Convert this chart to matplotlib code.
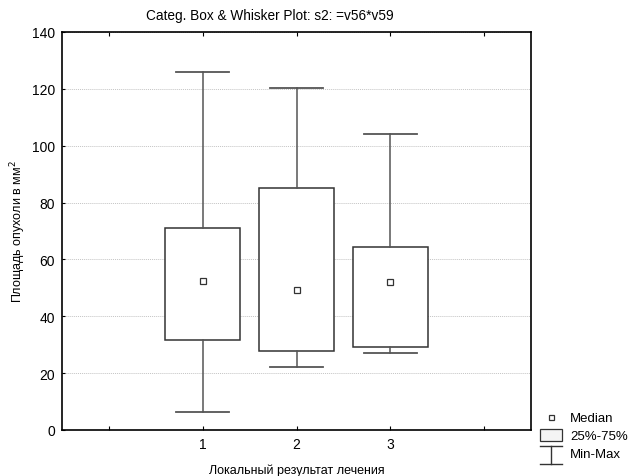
"""Categorized box & whisker plot (Statistica style)."""
import matplotlib
matplotlib.use("Agg")
import matplotlib.pyplot as plt
from matplotlib.lines import Line2D
from matplotlib.patches import Rectangle

plt.rcParams["font.family"] = ["Liberation Sans", "DejaVu Sans"]
plt.rcParams["font.size"] = 9

groups = [1, 2, 3]
medians = [52.4, 49.1, 51.9]
q1 = [31.5, 27.7, 29.2]
q3 = [71.1, 85.1, 64.4]
mins = [6.4, 22.2, 27.1]
maxs = [126.0, 120.3, 104.2]

EDGE = "#333333"
WHISK = "#555555"

fig = plt.figure(figsize=(6.29, 4.77), dpi=100)
ax = fig.add_axes([62 / 629, 46 / 477, 469 / 629, 398 / 477])

stats = [dict(med=m, q1=a, q3=b, whislo=lo, whishi=hi, fliers=[])
         for m, a, b, lo, hi in zip(medians, q1, q3, mins, maxs)]
ax.bxp(stats, positions=groups, widths=0.8, capwidths=0.56,
       showfliers=False, patch_artist=True,
       boxprops=dict(facecolor="white", edgecolor=EDGE, linewidth=1.1),
       whiskerprops=dict(color=WHISK, linewidth=1.1),
       capprops=dict(color=WHISK, linewidth=1.3),
       medianprops=dict(linewidth=0), zorder=3)
ax.plot(groups, medians, "s", ms=4.5, mfc="white", mec=EDGE, mew=0.9, zorder=4)

ax.set_xlim(-0.5, 4.5)
ax.set_ylim(0, 140)
ax.set_xticks([0, 1, 2, 3, 4])
ax.set_xticklabels(["", "1", "2", "3", ""])
ax.set_yticks(range(0, 141, 20))
ax.tick_params(direction="in", length=3, width=0.8, top=True, colors="black",
               labelsize=10, pad=5)
ax.tick_params(axis="y", length=2, pad=5)
ax.yaxis.grid(True, ls=(0, (1, 1)), color="#c4c4c4", lw=0.7)
ax.set_axisbelow(True)
for s in ax.spines.values():
    s.set_linewidth(1.2)

ax.set_xlabel("Локальный результат лечения", labelpad=9)
ax.set_ylabel("Площадь опухоли в мм$^2$", labelpad=3)
fig.text(270 / 629, 1 - 16 / 477, "Categ. Box & Whisker Plot: s2: =v56*v59",
         ha="center", va="center", fontsize=9.8)

# legend drawn by hand in figure pixels
def px(x, y):
    return x / 629, 1 - y / 477

fig.add_artist(Rectangle(px(549, 421), 5 / 629, 5 / 477, facecolor="white",
                         edgecolor=EDGE, lw=0.9, transform=fig.transFigure))
fig.add_artist(Rectangle(px(540, 442), 22 / 629, 12 / 477, facecolor="#f4f4f4",
                         edgecolor=EDGE, lw=0.9, transform=fig.transFigure))
for xs, ys in [((551, 551), (447, 465)), ((540, 562), (447, 447)),
               ((540, 562), (465, 465))]:
    fig.add_artist(Line2D([x / 629 for x in xs], [1 - y / 477 for y in ys],
                          color=EDGE, lw=1, transform=fig.transFigure))
for y, t in [(419, "Median"), (437, "25%-75%"), (455, "Min-Max")]:
    fig.text(*px(570, y), t, ha="left", va="center", fontsize=9.5)

fig.savefig("out.png", dpi=100)
